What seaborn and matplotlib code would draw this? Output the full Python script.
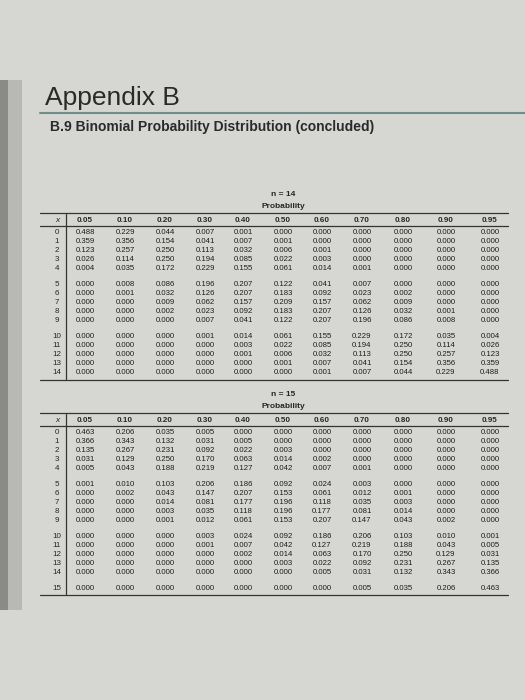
import matplotlib
matplotlib.use("Agg")
import matplotlib.pyplot as plt
import seaborn as sns

probs = ["0.05", "0.10", "0.20", "0.30", "0.40", "0.50", "0.60", "0.70", "0.80", "0.90", "0.95"]

# n = 14, one list per probability column (x = 0..14)
n14 = [
    [.488, .359, .123, .026, .004, .000, .000, .000, .000, .000, .000, .000, .000, .000, .000],
    [.229, .356, .257, .114, .035, .008, .001, .000, .000, .000, .000, .000, .000, .000, .000],
    [.044, .154, .250, .250, .172, .086, .032, .009, .002, .000, .000, .000, .000, .000, .000],
    [.007, .041, .113, .194, .229, .196, .126, .062, .023, .007, .001, .000, .000, .000, .000],
    [.001, .007, .032, .085, .155, .207, .207, .157, .092, .041, .014, .003, .001, .000, .000],
    [.000, .001, .006, .022, .061, .122, .183, .209, .183, .122, .061, .022, .006, .001, .000],
    [.000, .000, .001, .003, .014, .041, .092, .157, .207, .207, .155, .085, .032, .007, .001],
    [.000, .000, .000, .000, .001, .007, .023, .062, .126, .196, .229, .194, .113, .041, .007],
    [.000, .000, .000, .000, .000, .000, .002, .009, .032, .086, .172, .250, .250, .154, .044],
    [.000, .000, .000, .000, .000, .000, .000, .000, .001, .008, .035, .114, .257, .356, .229],
    [.000, .000, .000, .000, .000, .000, .000, .000, .000, .000, .004, .026, .123, .359, .488],
]

# n = 15 (x = 0..15)
n15 = [
    [.463, .366, .135, .031, .005, .001, .000, .000, .000, .000, .000, .000, .000, .000, .000, .000],
    [.206, .343, .267, .129, .043, .010, .002, .000, .000, .000, .000, .000, .000, .000, .000, .000],
    [.035, .132, .231, .250, .188, .103, .043, .014, .003, .001, .000, .000, .000, .000, .000, .000],
    [.005, .031, .092, .170, .219, .206, .147, .081, .035, .012, .003, .001, .000, .000, .000, .000],
    [.000, .005, .022, .063, .127, .186, .207, .177, .118, .061, .024, .007, .002, .000, .000, .000],
    [.000, .000, .003, .014, .042, .092, .153, .196, .196, .153, .092, .042, .014, .003, .000, .000],
    [.000, .000, .000, .002, .007, .024, .061, .118, .177, .207, .186, .127, .063, .022, .005, .000],
    [.000, .000, .000, .000, .001, .003, .012, .035, .081, .147, .206, .219, .170, .092, .031, .005],
    [.000, .000, .000, .000, .000, .000, .001, .003, .014, .043, .103, .188, .250, .231, .132, .035],
    [.000, .000, .000, .000, .000, .000, .000, .000, .000, .002, .010, .043, .129, .267, .343, .206],
    [.000, .000, .000, .000, .000, .000, .000, .000, .000, .000, .001, .005, .031, .135, .366, .463],
]

sns.set_style("white")
plt.rcParams['font.family'] = ['Liberation Sans', 'DejaVu Sans']

fig = plt.figure(figsize=(5.25, 7.0), dpi=100)
ax = fig.add_axes([0, 0, 1, 1])
ax.set_xlim(0, 525)
ax.set_ylim(700, 0)
ax.axis("off")
fig.patch.set_facecolor("#d6d6d2")

# binding strip on the left
ax.fill_between([0, 22], [80, 80], [610, 610], color="#b8b8b4", lw=0)
ax.fill_between([0, 8], [80, 80], [610, 610], color="#8a8a86", lw=0)

# page header
ax.text(45, 98, "Appendix B", fontsize=19, color="#2a2a2a", va="center")
ax.plot([40, 525], [113, 113], color="#6f8f88", lw=1.5)
ax.text(50, 127, "B.9 Binomial Probability Distribution (concluded)", fontsize=10,
        fontweight="bold", color="#2a2a2a", va="center")

col_x = [85, 125, 165, 205, 243, 283, 322, 362, 403, 446, 490]


def row_y(x, top, step, gap):
    return top + x * step + (x // 5) * gap


def draw_table(cols, n, top_y):
    ax.text(283, top_y, f"n = {n}", fontsize=6, fontweight="bold", ha="center", va="center")
    ax.text(283, top_y + 12, "Probability", fontsize=6, fontweight="bold", ha="center", va="center")
    ax.plot([40, 508], [top_y + 18, top_y + 18], color="#333", lw=0.9)
    hy = top_y + 25
    ax.text(57, hy, "x", fontsize=6, fontstyle="italic", ha="center", va="center")
    for cx, p in zip(col_x, probs):
        ax.text(cx, hy, p, fontsize=5.8, fontweight="bold", ha="center", va="center")
    ax.plot([40, 508], [hy + 6, hy + 6], color="#333", lw=0.9)
    nrows = len(cols[0])
    step, gap = 9.2, 6
    last = row_y(nrows - 1, hy + 12, step, gap)
    ax.plot([66, 66], [hy - 6, last + 6], color="#333", lw=0.9)
    for x in range(nrows):
        y = row_y(x, hy + 12, step, gap)
        ax.text(57, y, str(x), fontsize=5.8, ha="center", va="center")
        for cx, col in zip(col_x, cols):
            ax.text(cx, y, f"{col[x]:.3f}", fontsize=5.6, ha="center", va="center", color="#1e1e1e")
    ax.plot([40, 508], [last + 7, last + 7], color="#333", lw=0.9)


draw_table(n14, 14, 195)
draw_table(n15, 15, 395)

fig.savefig("out.png", dpi=100, facecolor=fig.get_facecolor())
